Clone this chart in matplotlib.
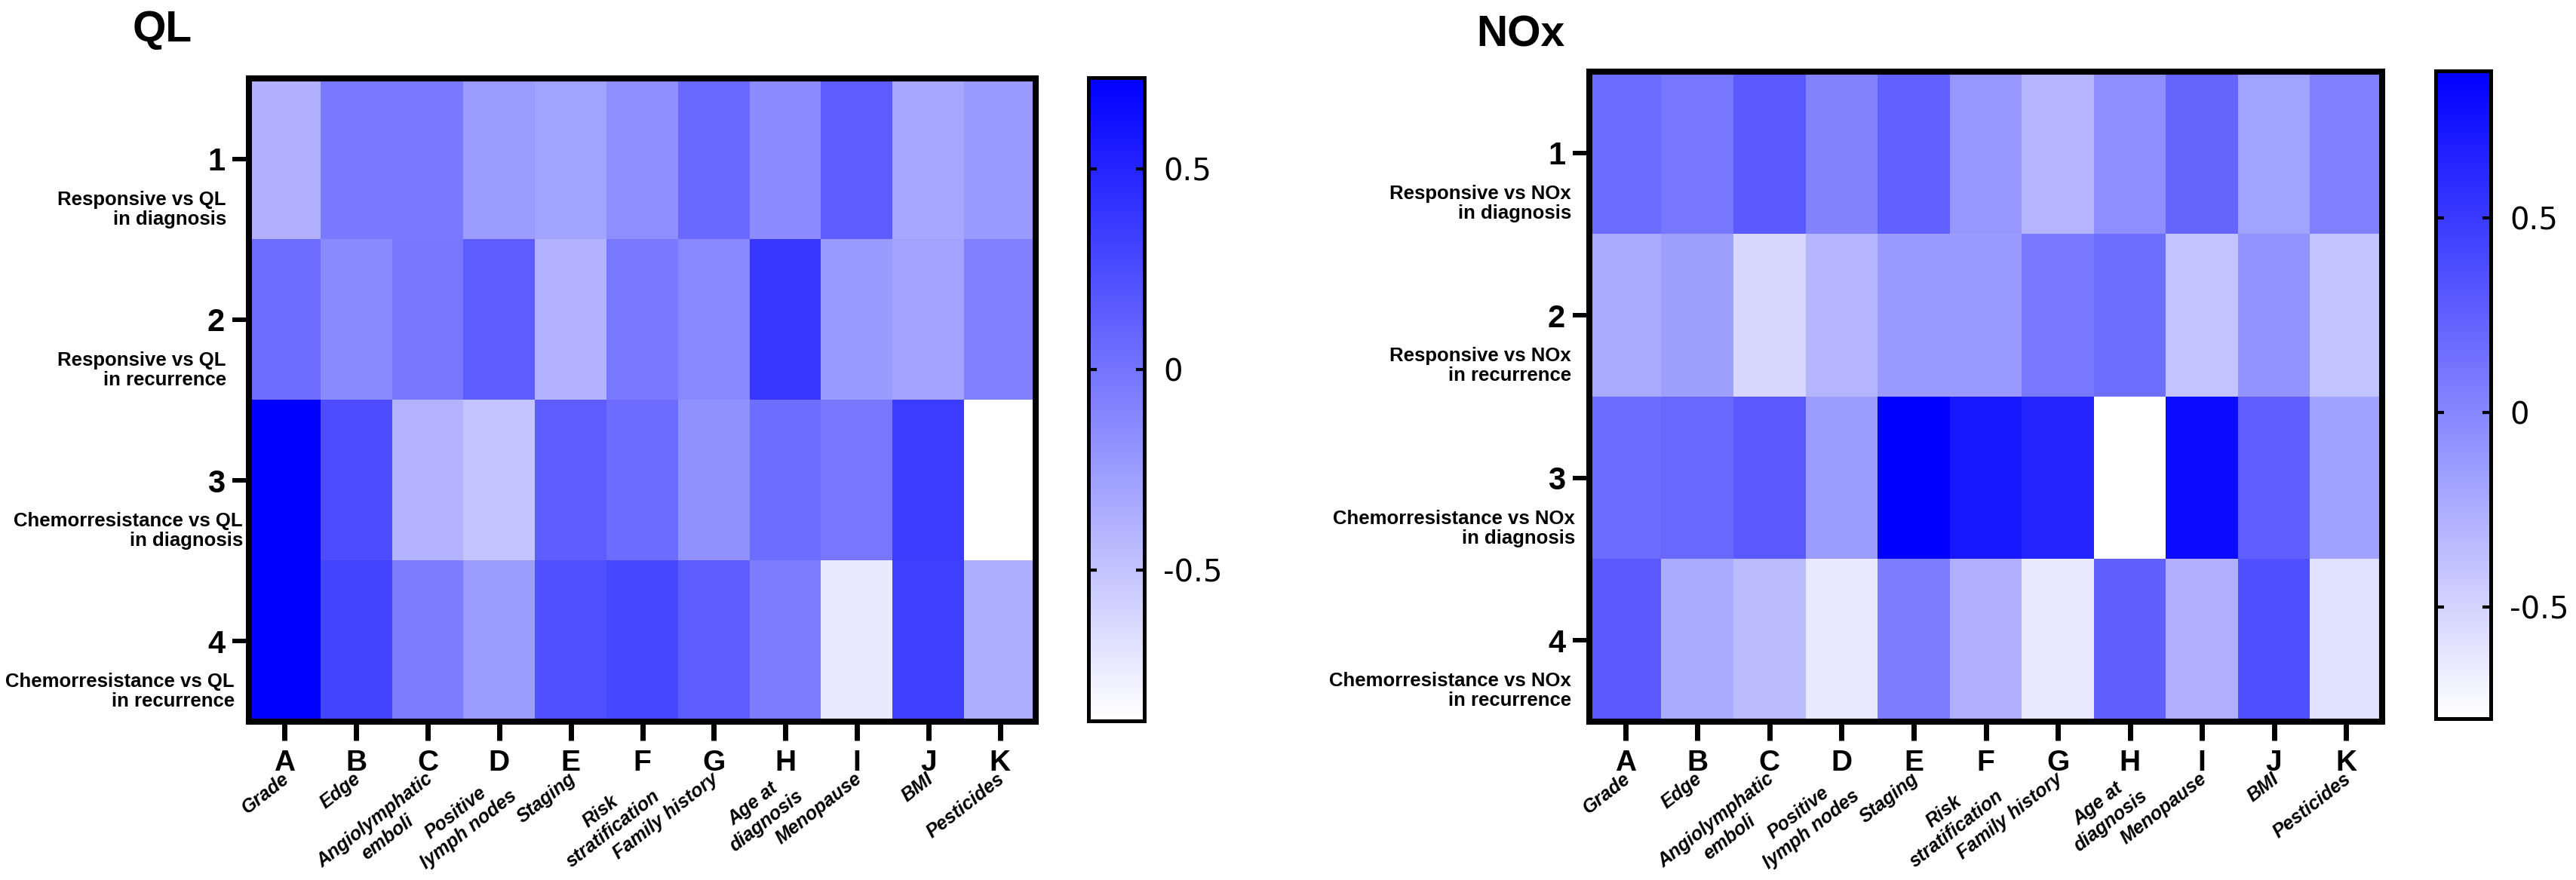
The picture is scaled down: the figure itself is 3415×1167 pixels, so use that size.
import numpy as np
import matplotlib
matplotlib.use("Agg")
import matplotlib.pyplot as plt
from matplotlib.colors import LinearSegmentedColormap

plt.rcParams['font.family'] = ['Liberation Sans', 'DejaVu Sans']

# ---- data ----
col_letters = ['A', 'B', 'C', 'D', 'E', 'F', 'G', 'H', 'I', 'J', 'K']
col_names = ['Grade', 'Edge', 'Angiolymphatic\nemboli', 'Positive\nlymph nodes',
             'Staging', 'Risk\nstratification', 'Family history',
             'Age at\ndiagnosis', 'Menopause', 'BMI', 'Pesticides']
row_numbers = ['1', '2', '3', '4']

ql_rows = ['Responsive vs QL\nin diagnosis', 'Responsive vs QL\nin recurrence',
           'Chemorresistance vs QL\nin diagnosis', 'Chemorresistance vs QL\nin recurrence']
nox_rows = ['Responsive vs NOx\nin diagnosis', 'Responsive vs NOx\nin recurrence',
            'Chemorresistance vs NOx\nin diagnosis', 'Chemorresistance vs NOx\nin recurrence']

ql_values = np.array([
    [-0.38, -0.04, -0.04, -0.25, -0.29, -0.17, 0.06, -0.15, 0.15, -0.32, -0.24],
    [0.04, -0.14, -0.03, 0.15, -0.39, -0.04, -0.13, 0.38, -0.24, -0.30, -0.08],
    [0.727, 0.24, -0.40, -0.50, 0.15, 0.05, -0.18, 0.04, -0.02, 0.35, -0.876],
    [0.72, 0.30, -0.05, -0.25, 0.22, 0.28, 0.14, -0.05, -0.74, 0.33, -0.37],
])
nox_values = np.array([
    [0.17, 0.11, 0.29, 0.02, 0.24, -0.11, -0.30, -0.05, 0.21, -0.18, 0.04],
    [-0.23, -0.15, -0.52, -0.30, -0.13, -0.13, 0.08, 0.15, -0.40, -0.08, -0.40],
    [0.17, 0.20, 0.29, -0.14, 0.878, 0.72, 0.64, -0.787, 0.80, 0.26, -0.17],
    [0.29, -0.23, -0.34, -0.64, 0.06, -0.27, -0.64, 0.25, -0.27, 0.36, -0.58],
])
ql_range = (-0.876, 0.727)
nox_range = (-0.787, 0.878)
cbar_ticks = [-0.5, 0, 0.5]

cmap = LinearSegmentedColormap.from_list('wb', ['#FFFFFF', '#0000FF'])

fig = plt.figure(figsize=(34.15, 11.67), dpi=100)
W, H = 3415, 1167
renderer = fig.canvas.get_renderer()

ROT = 38
th = np.radians(ROT)
along = np.array([np.cos(th), np.sin(th)])
perp = np.array([np.sin(th), -np.cos(th)])
lab_font = dict(fontsize=18, fontweight='bold', fontstyle='italic')
line_gap = 28


def text_width(s):
    t = fig.text(0, 0, s, **lab_font)
    w = t.get_window_extent(renderer).width
    t.remove()
    return w


def px_axes(x0, y0, x1, y1):
    return fig.add_axes([x0 / W, 1 - y1 / H, (x1 - x0) / W, (y1 - y0) / H])


def draw_panel(ax, cax, values, vrange, row_texts, row_dx, title, title_xy):
    im = ax.imshow(values, cmap=cmap, vmin=vrange[0], vmax=vrange[1],
                   aspect='auto', interpolation='nearest')
    for s in ax.spines.values():
        s.set_linewidth(5.8)
    ax.set_xticks(range(len(col_letters)))
    ax.set_xticklabels(col_letters, fontsize=28, fontweight='bold')
    ax.set_yticks(range(len(row_numbers)))
    ax.set_yticklabels(row_numbers, fontsize=30, fontweight='bold')
    ax.tick_params(axis='x', length=18, width=5, pad=9)
    ax.tick_params(axis='y', length=16, width=4.3, pad=7)

    # row descriptions under each row number
    for i, txt in enumerate(row_texts):
        ax.annotate(txt, xy=(0, i), xycoords=('axes fraction', 'data'),
                    xytext=(row_dx[i], -42), textcoords='offset pixels',
                    ha='right', va='top', fontsize=18.5, fontweight='bold',
                    linespacing=1.1)

    # slanted column descriptions, one text per line, lines centred
    for j, txt in enumerate(col_names):
        lines = txt.split('\n')
        widths = [text_width(l) for l in lines]
        wmax = max(widths)
        for k, (l, w) in enumerate(zip(lines, widths)):
            off = np.array([-4.0, -64.0]) - along * (wmax - w) / 2 + perp * k * line_gap
            ax.annotate(l, xy=(j, 0), xycoords=('data', 'axes fraction'),
                        xytext=tuple(off), textcoords='offset pixels',
                        ha='right', va='top', rotation=ROT,
                        rotation_mode='anchor', **lab_font)

    cb = fig.colorbar(im, cax=cax, ticks=cbar_ticks)
    cb.outline.set_linewidth(3.6)
    cb.ax.tick_params(left=True, right=True, direction='in', length=8,
                      width=3, pad=18, labelsize=29)
    cb.ax.set_yticklabels(['-0.5', '0', '0.5'], family='DejaVu Sans')

    fig.text(title_xy[0] / W, 1 - title_xy[1] / H, title, fontsize=41,
             fontweight='bold', va='baseline', ha='left')


ax1 = px_axes(330, 104, 1373, 957)
cax1 = px_axes(1443, 103, 1517, 956)
draw_panel(ax1, cax1, ql_values, ql_range, ql_rows, [-30, -30, -8, -19],
           'QL', (176, 55))

ax2 = px_axes(2107, 95, 3158, 957)
cax2 = px_axes(3229, 94, 3302, 953)
draw_panel(ax2, cax2, nox_values, nox_range, nox_rows, [-24, -24, -19, -24],
           'NOx', (1957, 62))

fig.savefig('out.png', dpi=100)
